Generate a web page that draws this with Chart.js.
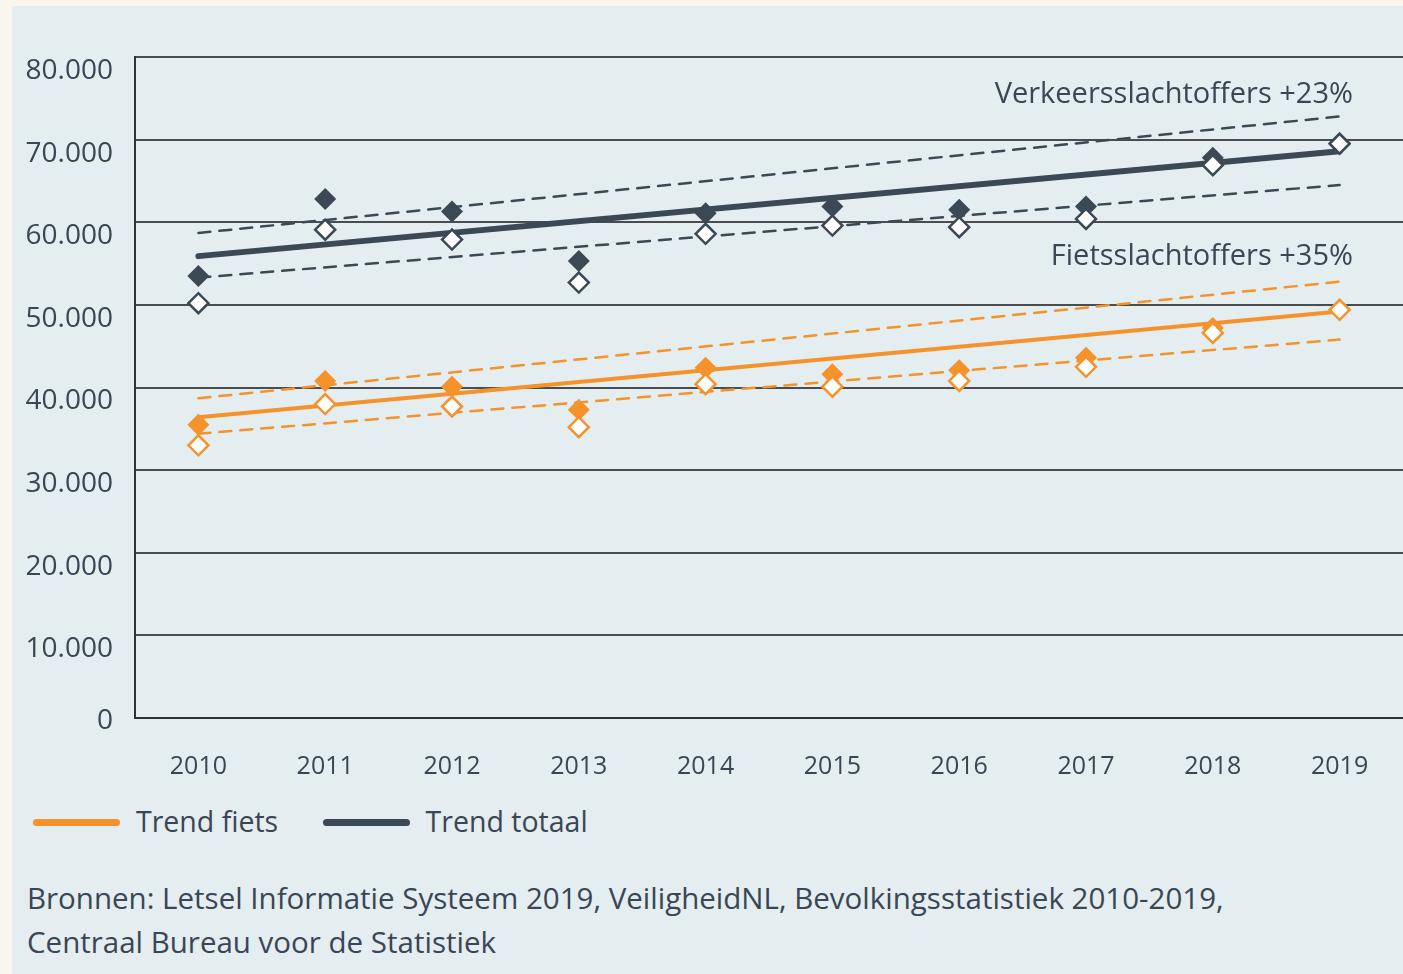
<!DOCTYPE html>
<html>
<head>
<meta charset="utf-8">
<script src="https://cdn.jsdelivr.net/npm/chart.js@4"></script>
<style>
  body { margin: 0; background: #f9f6ef; font-family: "Open Sans", "Noto Sans", sans-serif; color: #3a4654; overflow: hidden; }
  #panel { position: absolute; left: 12px; top: 6px; width: 1391px; height: 968px; background: #e4edf0; }
  #chart { position: absolute; left: 0; top: 0; }
  .note { position: absolute; right: 50px; font-size: 29px; line-height: 30px; white-space: nowrap; }
  #legend { position: absolute; top: 805px; left: 33px; font-size: 28.5px; line-height: 32px; white-space: nowrap; }
  #legend span.item { display: inline-block; margin-right: 37px; }
  #legend i { display: inline-block; width: 87px; height: 7px; border-radius: 4px; vertical-align: middle; margin-right: 16px; position: relative; top: -2px; }
  #source { position: absolute; left: 27px; top: 876px; font-size: 29.5px; line-height: 44px; white-space: nowrap; }
</style>
</head>
<body>
<div id="panel"></div>
<canvas id="chart" width="1403" height="800"></canvas>
<div class="note" style="top:77px">Verkeersslachtoffers +23%</div>
<div class="note" style="top:239px">Fietsslachtoffers +35%</div>
<div id="legend">
  <span class="item"><i style="background:#f5922a"></i>Trend fiets</span>
  <span class="item"><i style="background:#3b4954"></i>Trend totaal</span>
</div>
<div id="source">Bronnen: Letsel Informatie Systeem 2019, VeiligheidNL, Bevolkingsstatistiek 2010-2019,<br>Centraal Bureau voor de Statistiek</div>
<script>
// Years on the x axis
const years = ['2010', '2011', '2012', '2013', '2014', '2015', '2016', '2017', '2018', '2019'];
const yTicks = [0, 10000, 20000, 30000, 40000, 50000, 60000, 70000, 80000];

// Verkeersslachtoffers (totaal)
const totaalDicht = [53500, 62800, 61300, 55300, 61100, 61900, 61500, 61900, 67800, 69600];
const totaalOpen = [50200, 59100, 57900, 52700, 58600, 59600, 59400, 60400, 66900, 69500];
const trendTotaal = [55900, null, null, null, null, null, null, null, null, 68600];
const trendTotaalBoven = [58700, null, null, null, null, null, null, null, null, 72800];
const trendTotaalOnder = [53300, null, null, null, null, null, null, null, null, 64500];

// Fietsslachtoffers
const fietsDicht = [35500, 40800, 40100, 37300, 42400, 41600, 42100, 43600, 47200, 49400];
const fietsOpen = [33000, 38000, 37700, 35200, 40400, 40100, 40800, 42500, 46600, 49400];
const trendFiets = [36400, null, null, null, null, null, null, null, null, 49200];
const trendFietsBoven = [38700, null, null, null, null, null, null, null, null, 52800];
const trendFietsOnder = [34400, null, null, null, null, null, null, null, null, 45800];

const DARK = '#3b4954';
const ORANGE = '#f5922a';

function markers(data, color, open) {
    return {
        data: data,
        showLine: false,
        pointStyle: 'rectRot',
        pointRadius: open ? 10 : 11,
        pointBackgroundColor: open ? '#ffffff' : color,
        pointBorderColor: color,
        pointBorderWidth: open ? 2.5 : 0,
        borderColor: color
    };
}

function trend(data, color, width, dashed) {
    return {
        data: data,
        spanGaps: true,
        pointRadius: 0,
        borderColor: color,
        borderWidth: width,
        borderDash: dashed ? [12, 9] : [],
        borderCapStyle: 'round'
    };
}

const ctx = document.getElementById('chart').getContext('2d');
new Chart(ctx, {
    type: 'line',
    data: {
        labels: years,
        datasets: [
            markers(totaalOpen, DARK, true),
            markers(fietsOpen, ORANGE, true),
            markers(totaalDicht, DARK, false),
            markers(fietsDicht, ORANGE, false),
            trend(trendTotaal, DARK, 6, false),
            trend(trendFiets, ORANGE, 4, false),
            trend(trendTotaalBoven, DARK, 2.5, true),
            trend(trendTotaalOnder, DARK, 2.5, true),
            trend(trendFietsBoven, ORANGE, 2.5, true),
            trend(trendFietsOnder, ORANGE, 2.5, true)
        ]
    },
    options: {
        responsive: false,
        animation: false,
        layout: { autoPadding: false, padding: { top: 57, left: 0, right: 0, bottom: 0 } },
        plugins: {
            legend: { display: false },
            tooltip: { enabled: false }
        },
        scales: {
            x: {
                offset: true,
                grid: { display: false, drawTicks: false },
                border: { display: true, color: '#2e3236', width: 2 },
                ticks: {
                    color: '#3a4654',
                    padding: 34,
                    font: { family: 'Open Sans', size: 25 }
                },
                afterFit: function (scale) { scale.height = 82; }
            },
            y: {
                min: 0,
                max: 80000,
                afterBuildTicks: function (scale) { scale.ticks = yTicks.map(v => ({ value: v })); },
                grid: { color: '#4a4d50', lineWidth: 2, drawTicks: false },
                border: { display: true, color: '#2e3236', width: 2 },
                ticks: {
                    color: '#3a4654',
                    padding: 22,
                    labelOffset: 14,
                    font: { family: 'Open Sans', size: 28, lineHeight: 0.8 },
                    callback: function (v) {
                        // the zero label sits on the axis line, the others just below their grid line
                        if (v === 0) return ['0', ''];
                        return String(v).replace(/\B(?=(\d{3})+(?!\d))/g, '.');
                    }
                },
                afterFit: function (scale) { scale.width = 135; }
            }
        }
    }
});
</script>
</body>
</html>
